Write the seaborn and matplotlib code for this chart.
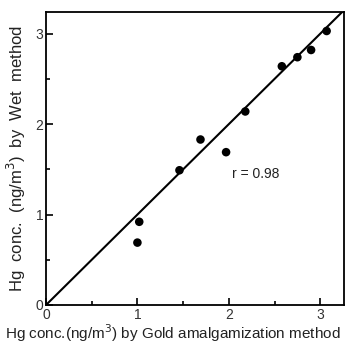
import matplotlib
matplotlib.use("Agg")
import matplotlib.pyplot as plt
import seaborn as sns
import pandas as pd
from matplotlib.ticker import MultipleLocator

# values
gold_method = [1.00, 1.02, 1.46, 1.69, 1.97, 2.18, 2.58, 2.75, 2.90, 3.07]
wet_method = [0.69, 0.92, 1.49, 1.83, 1.69, 2.14, 2.64, 2.74, 2.82, 3.03]
identity_line = [0, 3.26]
r_label = "r = 0.98"

sns.set_theme(style="white")
plt.rcParams['font.family'] = ['Liberation Sans', 'DejaVu Sans']

df = pd.DataFrame({"gold": gold_method, "wet": wet_method})

fig = plt.figure(figsize=(3.49, 3.45), dpi=100)
ax = fig.add_axes([46 / 349, 40 / 345, 298 / 349, 293 / 345])

sns.scatterplot(data=df, x="gold", y="wet", ax=ax, color="black",
                s=38, edgecolor="none", zorder=3)
ax.plot(identity_line, identity_line, color="black", lw=1.5)

ax.set_xlim(0, 3.26)
ax.set_ylim(0, 3.24)
ax.xaxis.set_major_locator(MultipleLocator(1))
ax.xaxis.set_minor_locator(MultipleLocator(0.5))
ax.yaxis.set_major_locator(MultipleLocator(1))
ax.yaxis.set_minor_locator(MultipleLocator(0.5))
ax.tick_params(which="both", direction="in", bottom=True, left=True,
               top=False, right=False, color="black", width=1.2,
               labelsize=10, labelcolor="#333333", pad=2)
ax.tick_params(which="major", length=5)
ax.tick_params(which="minor", length=3)
for s in ax.spines.values():
    s.set_color("black")
    s.set_linewidth(1.3)

ax.text(2.03, 1.45, r_label, fontsize=10, color="#222222", va="center")

ax.set_xlabel("Hg conc.(ng/m$^3$) by Gold amalgamization method",
              fontsize=11, color="#222222")
ax.xaxis.set_label_coords(0.427, -0.058)
ax.set_ylabel("Hg  conc.  (ng/m$^3$)  by  Wet  method",
              fontsize=12, color="#222222", labelpad=5)

fig.savefig("out.png", dpi=100)
